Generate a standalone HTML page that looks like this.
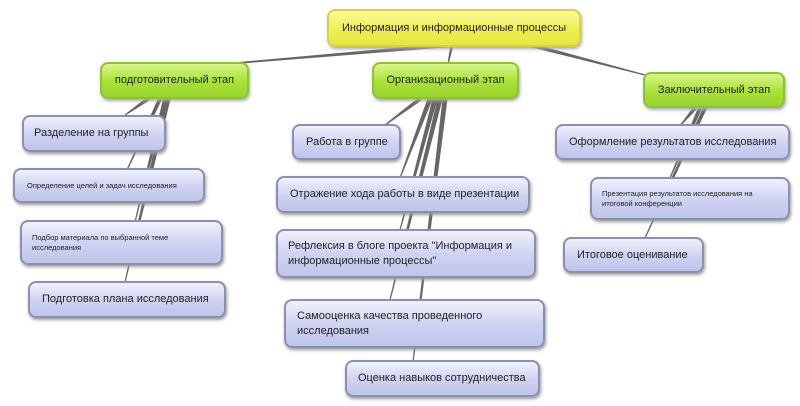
<!DOCTYPE html>
<html><head><meta charset="utf-8"><style>
body{margin:0;width:800px;height:406px;background:#fff;position:relative;overflow:hidden;font-family:"Liberation Sans",sans-serif}
.b{position:absolute;box-sizing:border-box;border-radius:8px;display:flex;align-items:center;color:#222;line-height:1.3;padding:0 14px;white-space:nowrap}
.y{background:linear-gradient(#fbfb9c,#eeee55 55%,#e6e640);border:2px solid #d6cf55;box-shadow:1px 2px 3px #aaa;justify-content:center;font-size:11px}
.g{background:linear-gradient(#d8f58a,#a9e03a 55%,#9ad42c);border:2px solid #8cc23a;box-shadow:1px 2px 3px #aaa;justify-content:center;font-size:11px}
.p{background:linear-gradient(#f0f1fc,#d0d4f2 50%,#bfc4ea);border:2px solid #8d8fb0;box-shadow:1px 2px 3px #999;font-size:11px}
.w{white-space:normal}
.s{font-size:7.5px}
svg{position:absolute;left:0;top:0}
</style></head><body>
<svg width="800" height="406" id="sv"></svg>
<div class="b y" style="left:327px;top:9px;width:254px;height:38px">Информация и информационные процессы</div>
<div class="b g" style="left:100px;top:62px;width:149px;height:37px">подготовительный этап</div>
<div class="b g" style="left:372px;top:62px;width:147px;height:37px">Организационный этап</div>
<div class="b g" style="left:643px;top:72px;width:142px;height:36px">Заключительный этап</div>

<div class="b p" style="left:22px;top:115px;width:144px;height:37px;padding-left:10px">Разделение на группы</div>
<div class="b p s" style="left:13px;top:168px;width:192px;height:35px;padding-left:12px">Определение целей и задач исследования</div>
<div class="b p s w" style="left:20px;top:220px;width:203px;height:45px;padding-left:10px">Подбор материала по выбранной теме<br>исследования</div>
<div class="b p" style="left:28px;top:281px;width:198px;height:37px;padding-left:12px">Подготовка плана исследования</div>

<div class="b p" style="left:292px;top:124px;width:109px;height:36px;padding-left:12px">Работа в группе</div>
<div class="b p" style="left:276px;top:176px;width:254px;height:37px;padding-left:12px">Отражение хода работы в виде презентации</div>
<div class="b p w" style="left:276px;top:229px;width:260px;height:49px;padding-left:10px">Рефлексия в блоге проекта "Информация и<br>информационные процессы"</div>
<div class="b p w" style="left:284px;top:299px;width:261px;height:49px;padding-left:11px">Самооценка качества проведенного<br>исследования</div>
<div class="b p" style="left:345px;top:360px;width:195px;height:37px;padding-left:11px">Оценка навыков сотрудничества</div>

<div class="b p" style="left:555px;top:124px;width:235px;height:36px;padding-left:12px">Оформление результатов исследования</div>
<div class="b p s w" style="left:590px;top:177px;width:200px;height:43px;padding-left:10px">Презентация результатов исследования на<br>итоговой конференции</div>
<div class="b p" style="left:563px;top:237px;width:141px;height:36px;padding-left:12px">Итоговое оценивание</div>
<script>
var L=[[450,45,190,67,4],[452,45,448,64,3],[530,45,645,75,4],
[148,99,125,115,4],[160,99,127,170,4],[165,99,135,222,4],[168,99,125,282,5],
[420,99,385,125,4],[430,99,400,178,5],[435,99,400,230,5],[440,99,390,300,5],[445,99,413,362,5],
[695,108,680,126,4],[700,108,670,178,4],[705,108,645,238,4]];
var s='';L.forEach(function(a){var dx=a[2]-a[0],dy=a[3]-a[1],l=Math.hypot(dx,dy),nx=-dy/l,ny=dx/l,w=a[4]/2,e=0.6;
s+='<polygon fill="#666" points="'+(a[0]+nx*w)+','+(a[1]+ny*w)+' '+(a[0]-nx*w)+','+(a[1]-ny*w)+' '+(a[2]-nx*e)+','+(a[3]-ny*e)+' '+(a[2]+nx*e)+','+(a[3]+ny*e)+'"/>';});
document.getElementById('sv').innerHTML=s;
</script>
</body></html>
